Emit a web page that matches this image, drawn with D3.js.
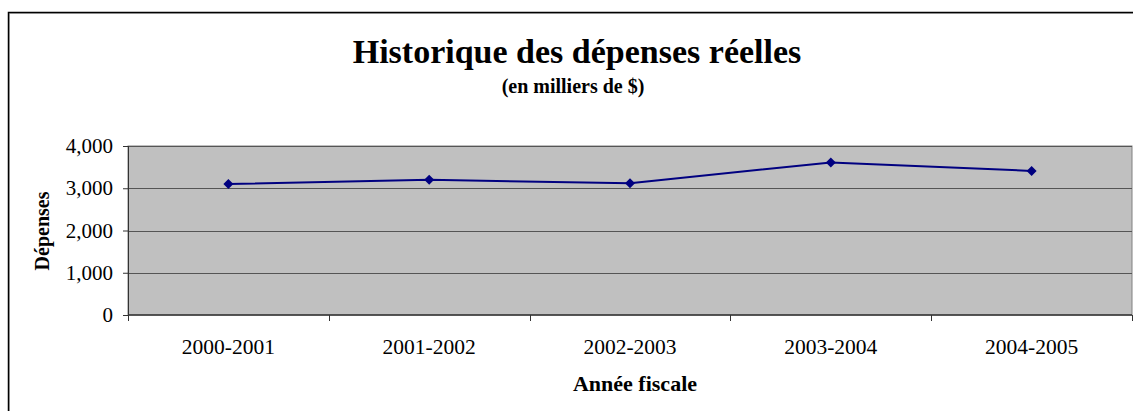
<!DOCTYPE html>
<html>
<head>
<meta charset="utf-8">
<script src="https://cdn.jsdelivr.net/npm/d3@7"></script>
<style>
  body { margin: 0; background: #fff; }
  text { font-family: "Liberation Serif", "Times New Roman", serif; }
</style>
</head>
<body>
<div id="chart"></div>
<script>
// data
var years = ["2000-2001", "2001-2002", "2002-2003", "2003-2004", "2004-2005"];
var spending = [3100, 3200, 3120, 3610, 3410];
var yTicks = [0, 1000, 2000, 3000, 4000];

var svgWidth = 1133;
var svgHeight = 411;

var margin = { top: 146, right: 1, bottom: 96, left: 128 };
var width = svgWidth - margin.left - margin.right;
var height = svgHeight - margin.top - margin.bottom;

var svg = d3.select("#chart")
  .append("svg")
  .attr("width", svgWidth)
  .attr("height", svgHeight);

// outer chart frame (runs off the right and bottom edges)
svg.append("rect")
  .attr("x", 9.5).attr("y", 13.5)
  .attr("width", 1200).attr("height", 500)
  .attr("fill", "none").attr("stroke", "#bbb").attr("stroke-width", 1);
svg.append("rect")
  .attr("x", 8.5).attr("y", 12.5)
  .attr("width", 1200).attr("height", 500)
  .attr("fill", "none").attr("stroke", "#000").attr("stroke-width", 1.5);

// titles
svg.append("text")
  .attr("x", 577).attr("y", 63)
  .attr("text-anchor", "middle")
  .attr("font-size", "34px").attr("font-weight", "bold")
  .text("Historique des dépenses réelles");

svg.append("text")
  .attr("x", 573).attr("y", 93)
  .attr("text-anchor", "middle")
  .attr("font-size", "20px").attr("font-weight", "bold")
  .text("(en milliers de $)");

var chartGroup = svg.append("g")
  .attr("transform", `translate(${margin.left}, ${margin.top})`);

var xScale = d3.scaleBand()
  .domain(years)
  .range([0, width]);

var yScale = d3.scaleLinear()
  .domain([0, 4000])
  .range([height, 0]);

// plot area
chartGroup.append("rect")
  .attr("width", width).attr("height", height)
  .attr("fill", "#c0c0c0")
  .attr("stroke", "#808080").attr("stroke-width", 1);

// gridlines
chartGroup.selectAll(".grid")
  .data(yTicks.filter(d => d > 0))
  .enter()
  .append("line")
  .attr("class", "grid")
  .attr("x1", 0).attr("x2", width)
  .attr("y1", d => Math.round(yScale(d)) + 0.5)
  .attr("y2", d => Math.round(yScale(d)) + 0.5)
  .attr("stroke", "#555").attr("stroke-width", 1);

// y axis
var leftAxis = d3.axisLeft(yScale)
  .tickValues(yTicks)
  .tickSize(5)
  .tickPadding(10)
  .tickFormat(d3.format(","));

var yAxis = chartGroup.append("g").call(leftAxis);
yAxis.select(".domain").attr("stroke", "#333").attr("d", `M0.5,0V${height}`);
yAxis.selectAll("line").attr("stroke", "#333");
yAxis.selectAll("text")
  .attr("font-size", "21px")
  .attr("fill", "#000")
  .attr("font-family", "Liberation Serif");

// x axis: ticks on the band edges
var edges = years.map(d => xScale(d)).concat([width]);
var xAxis = chartGroup.append("g")
  .attr("transform", `translate(0, ${height})`);
xAxis.append("line")
  .attr("x1", 0).attr("x2", width)
  .attr("y1", 0).attr("y2", 0)
  .attr("stroke", "#333").attr("stroke-width", 1.5);
xAxis.selectAll(".xtick")
  .data(edges)
  .enter()
  .append("line")
  .attr("class", "xtick")
  .attr("x1", d => Math.round(d) + 0.5).attr("x2", d => Math.round(d) + 0.5)
  .attr("y1", 0).attr("y2", 6)
  .attr("stroke", "#333");
xAxis.selectAll(".xlabel")
  .data(years)
  .enter()
  .append("text")
  .attr("class", "xlabel")
  .attr("x", d => xScale(d) + xScale.bandwidth() / 2)
  .attr("y", 39)
  .attr("text-anchor", "middle")
  .attr("font-size", "21.5px")
  .text(d => d);

// axis titles
svg.append("text")
  .attr("transform", "translate(49, 231) rotate(-90)")
  .attr("text-anchor", "middle")
  .attr("font-size", "20px").attr("font-weight", "bold")
  .text("Dépenses");

svg.append("text")
  .attr("x", 635).attr("y", 391)
  .attr("text-anchor", "middle")
  .attr("font-size", "22px").attr("font-weight", "bold")
  .text("Année fiscale");

// line + markers
var line = d3.line()
  .x((d, i) => xScale(years[i]) + xScale.bandwidth() / 2)
  .y(d => yScale(d));

chartGroup.append("path")
  .datum(spending)
  .attr("d", line)
  .attr("fill", "none")
  .attr("stroke", "#000080")
  .attr("stroke-width", 2);

chartGroup.selectAll(".marker")
  .data(spending)
  .enter()
  .append("path")
  .attr("class", "marker")
  .attr("transform", (d, i) => `translate(${xScale(years[i]) + xScale.bandwidth() / 2}, ${yScale(d)})`)
  .attr("d", "M0,-5L5,0L0,5L-5,0Z")
  .attr("fill", "#000080");
</script>
</body>
</html>
